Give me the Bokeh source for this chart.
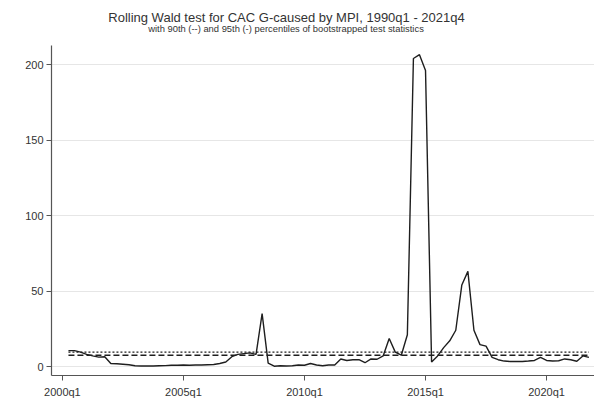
from bokeh.plotting import figure
from bokeh.models import Label, Range1d, FixedTicker
from bokeh.embed import file_html
from bokeh.resources import INLINE

# Quarterly rolling Wald statistics, 2000q2 .. 2021q4
first_year, first_q = 2000, 2
wald = [10.5, 10.5, 9.5, 8.0, 7.0, 6.2, 6.5, 2.0, 1.8, 1.5,
        1.2, 0.5, 0.3, 0.4, 0.3, 0.5, 0.6, 0.8, 0.8, 1.0,
        0.8, 1.0, 1.0, 1.2, 1.3, 2.0, 3.0, 6.5, 8.0, 8.5,
        9.0, 8.0, 35.0, 2.2, 0.2, 0.5, 0.3, 0.5, 1.0, 0.8,
        2.0, 1.0, 0.5, 1.0, 1.0, 5.0, 4.0, 4.5, 4.5, 2.5,
        5.0, 4.8, 7.0, 18.5, 9.5, 7.5, 21.0, 204.0, 206.5, 196.0,
        3.0, 7.0, 12.5, 17.0, 24.0, 54.0, 63.0, 24.0, 14.5, 13.5,
        6.0, 4.5, 3.6, 3.3, 3.3, 3.3, 3.6, 4.0, 6.0, 4.0,
        3.6, 3.8, 5.0, 4.5, 3.5, 7.0, 6.0]
p90 = 7.5   # 90th percentile (dashed)
p95 = 9.5   # 95th percentile (dotted)
xtick_years = [2000, 2005, 2010, 2015, 2020]
xtick_labels = ["2000q1", "2005q1", "2010q1", "2015q1", "2020q1"]
ytick_values = [0, 50, 100, 150, 200]

t = [first_year + (first_q - 1) / 4 + k / 4 for k in range(len(wald))]

y_lo, y_axis_top, y_frame_top = -5.96, 212.6, 242.4

p = figure(width=594, height=404, output_backend="svg", toolbar_location=None,
           x_range=Range1d(1999.55, 2021.98), y_range=Range1d(y_lo, y_frame_top),
           min_border_left=51, min_border_right=0, min_border_top=0,
           min_border_bottom=29, background_fill_color="white",
           border_fill_color="white")
p.outline_line_color = None

p.line(t, wald, line_color="#1e1e1e", line_width=1.4)
p.line([t[0], t[-1]], [p90, p90], line_color="#1e1e1e", line_width=1.4,
       line_dash="6 3")
p.line([t[0], t[-1]], [p95, p95], line_color="#1e1e1e", line_width=1.4,
       line_dash="2 2")

p.xaxis.ticker = FixedTicker(ticks=xtick_years)
p.xaxis.major_label_overrides = {y: l for y, l in zip(xtick_years, xtick_labels)}
p.yaxis.ticker = FixedTicker(ticks=ytick_values)
p.yaxis.bounds = (y_lo, y_axis_top)
p.xaxis.minor_tick_line_color = None
p.yaxis.minor_tick_line_color = None
for ax in (p.xaxis, p.yaxis):
    ax.axis_line_color = "#555555"
    ax.axis_line_width = 1.2
    ax.major_tick_line_color = "#555555"
    ax.major_tick_out = 5
    ax.major_tick_in = 0
    ax.major_label_text_font = "Liberation Sans"
    ax.major_label_text_font_size = "11px"
    ax.major_label_text_color = "#333333"
p.xaxis.major_label_standoff = 5
p.yaxis.major_label_standoff = 3
p.xgrid.grid_line_color = None
p.ygrid.grid_line_color = "#e6e6e6"
p.ygrid.grid_line_width = 1

p.add_layout(Label(x=235, y=358, x_units="screen", y_units="screen",
                   text="Rolling Wald test for CAC G-caused by MPI, 1990q1 - 2021q4",
                   text_align="center", text_baseline="middle",
                   text_font="Liberation Sans", text_font_size="13px",
                   text_color="#333333"))
p.add_layout(Label(x=234.5, y=347.5, x_units="screen", y_units="screen",
                   text="with 90th (--) and 95th (-) percentiles of bootstrapped test statistics",
                   text_align="center", text_baseline="middle",
                   text_font="Liberation Sans", text_font_size="9.4px",
                   text_color="#333333"))

open("out.html", "w").write(file_html(p, INLINE))
